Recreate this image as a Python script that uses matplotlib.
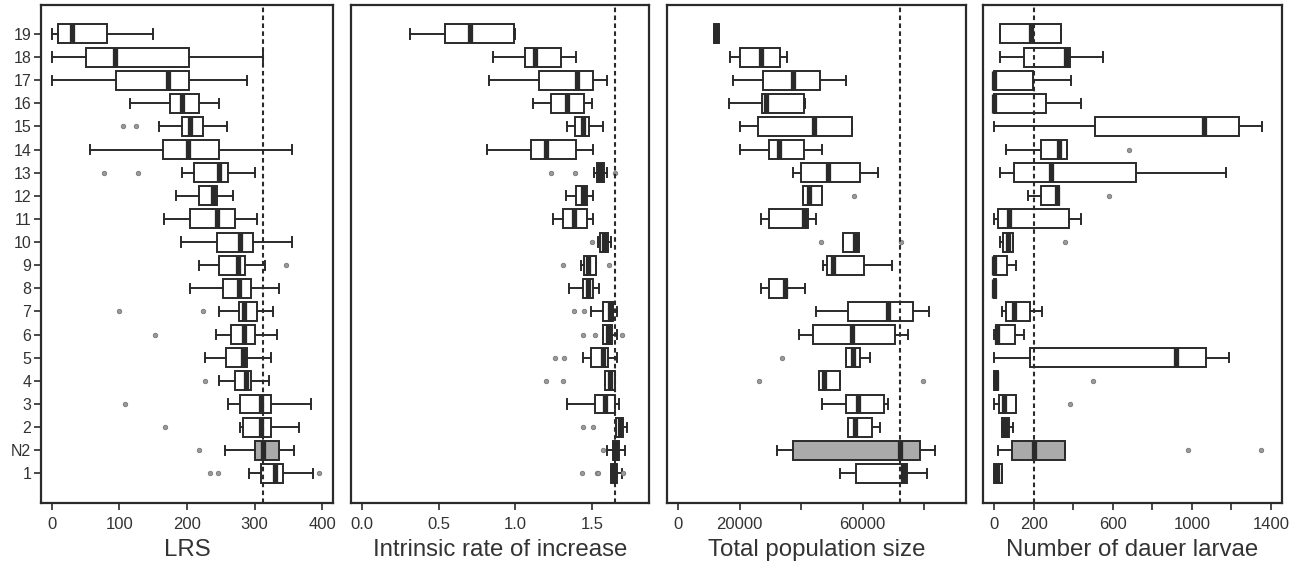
import matplotlib
matplotlib.use('Agg')
import matplotlib.pyplot as plt

plt.rcParams['font.family'] = ['Liberation Sans', 'DejaVu Sans']

# categories, bottom to top
categories = ['1', 'N2', '2', '3', '4', '5', '6', '7', '8', '9', '10',
              '11', '12', '13', '14', '15', '16', '17', '18', '19']

# ---- LRS ----
lrs_whislo = [292, 256, 278, 261, 248, 226, 243, 248, 204, 218, 191, 166, 184, 193, 56, 158, 116, 0, 0, 0]
lrs_q1     = [310, 300, 283, 279, 271, 258, 265, 277, 253, 247, 244, 205, 218, 211, 164, 193, 175, 95, 51, 9]
lrs_med    = [330, 312, 310, 310, 288, 283, 284, 284, 277, 276, 278, 244, 239, 247, 202, 204, 193, 172, 93, 30]
lrs_q3     = [342, 336, 325, 325, 295, 289, 301, 304, 294, 286, 298, 271, 245, 260, 247, 223, 218, 203, 203, 81]
lrs_whishi = [387, 359, 366, 384, 321, 325, 333, 327, 336, 315, 355, 304, 268, 301, 355, 259, 247, 289, 312, 149]
lrs_fliers = [[234, 246, 395], [218], [168], [108], [227], [], [152], [99, 224], [], [346],
              [], [], [], [77, 128], [], [106, 124], [], [], [], []]

# ---- Intrinsic rate of increase ----
r_whislo = [1.622, 1.596, 1.657, 1.334, 1.587, 1.443, 1.574, 1.491, 1.349, 1.430, 1.537, 1.247, 1.328, 1.513, 0.815, 1.339, 1.116, 0.828, 0.855, 0.316]
r_q1     = [1.622, 1.640, 1.657, 1.522, 1.587, 1.491, 1.574, 1.570, 1.443, 1.450, 1.552, 1.310, 1.393, 1.533, 1.101, 1.389, 1.232, 1.153, 1.062, 0.538]
r_med    = [1.644, 1.653, 1.683, 1.585, 1.618, 1.574, 1.607, 1.618, 1.476, 1.476, 1.578, 1.384, 1.443, 1.554, 1.199, 1.443, 1.339, 1.404, 1.127, 0.702]
r_q3     = [1.661, 1.679, 1.705, 1.653, 1.653, 1.602, 1.629, 1.640, 1.509, 1.524, 1.602, 1.469, 1.469, 1.578, 1.393, 1.482, 1.445, 1.509, 1.300, 0.990]
r_whishi = [1.694, 1.718, 1.731, 1.679, 1.653, 1.661, 1.661, 1.661, 1.548, 1.524, 1.622, 1.509, 1.509, 1.596, 1.509, 1.574, 1.498, 1.596, 1.393, 1.000]
r_fliers = [[1.437, 1.53, 1.541, 1.705], [1.574], [1.443, 1.504], [], [1.197, 1.308], [1.258, 1.317],
            [1.443, 1.522, 1.694], [1.384, 1.45], [], [1.312, 1.609], [1.502], [], [], [1.23, 1.39, 1.653],
            [], [], [], [], [], []]

# ---- Total population size ----
p_whislo = [52678, 32131, 55082, 46667, 45792, 54536, 39344, 44699, 26995, 47213, 53770, 26995, 40656, 37377, 20219, 20219, 16393, 17705, 16940, 11694]
p_q1     = [57814, 37377, 55082, 54536, 45792, 54536, 43934, 55082, 29508, 48306, 53770, 29399, 40656, 40000, 29508, 26120, 27322, 27541, 20219, 11694]
p_med    = [73224, 72131, 57596, 58361, 47300, 56831, 56393, 68306, 34645, 50273, 57596, 40984, 42623, 48634, 32787, 44262, 28634, 37377, 26995, 12459]
p_q3     = [74317, 78689, 63060, 66885, 52678, 59016, 70382, 76393, 35519, 60437, 58689, 42077, 46776, 59235, 40874, 56612, 40984, 46120, 33005, 13333]
p_whishi = [80765, 83497, 65574, 68306, 52678, 62514, 74863, 81421, 41421, 69617, 58689, 44699, 46776, 65137, 46776, 56612, 41311, 54536, 35519, 13333]
p_fliers = [[], [], [], [], [26230, 79672], [33661], [], [], [], [], [46557, 72350], [], [57049],
            [], [], [], [], [], [], []]

# ---- Number of dauer larvae ----
d_whislo = [0, 19, 39, 0, 0, 0, 0, 39, 0, 0, 29, 0, 172, 31, 60, 0, 0, 0, 29, 29]
d_q1     = [0, 90, 39, 27, 0, 184, 10, 60, 0, 0, 43, 19, 235, 100, 235, 510, 0, 0, 151, 29]
d_med    = [14, 202, 56, 51, 10, 918, 17, 102, 0, 0, 68, 77, 316, 286, 327, 1061, 0, 0, 362, 187]
d_q3     = [39, 359, 73, 112, 20, 1071, 104, 184, 10, 63, 94, 379, 328, 716, 371, 1238, 265, 197, 383, 340]
d_whishi = [39, 359, 95, 112, 20, 1187, 153, 243, 10, 112, 94, 439, 328, 1175, 371, 1357, 439, 388, 553, 340]
d_fliers = [[], [983, 1349], [], [383], [498], [], [], [], [], [], [357], [], [580], [], [680],
            [], [], [], [], []]

lrs_ticks = [0, 100, 200, 300, 400]
lrs_ticklabels = ['0', '100', '200', '300', '400']
r_ticks = [0.0, 0.5, 1.0, 1.5]
r_ticklabels = ['0.0', '0.5', '1.0', '1.5']
p_ticks = [0, 20000, 40000, 60000, 80000]
p_ticklabels = ['0', '20000', '', '60000', '']
d_ticks = [0, 200, 400, 600, 800, 1000, 1200, 1400]
d_ticklabels = ['0', '200', '', '600', '', '1000', '', '1400']

INK = '#2a2a2a'
fig = plt.figure(figsize=(13.1, 5.69), dpi=100)

H = 569.0
W = 1310.0
top_px, bot_px = 5, 503
panels_px = [(41, 333), (351, 649), (667, 966), (983, 1282)]


def draw(ax, whislo, q1, med, q3, whishi, fliers, xmax, ticks, ticklabels, xlabel, ylabels):
    stats = []
    for i in range(len(categories)):
        stats.append(dict(whislo=whislo[i], q1=q1[i], med=med[i], q3=q3[i],
                          whishi=whishi[i], fliers=fliers[i], label=categories[i]))
    res = ax.bxp(stats, positions=list(range(1, len(categories) + 1)), widths=0.82,
                 capwidths=0.4, orientation='horizontal', patch_artist=True,
                 showfliers=True,
                 boxprops=dict(facecolor='white', edgecolor=INK, linewidth=1.4),
                 whiskerprops=dict(color=INK, linewidth=1.4, linestyle='-'),
                 capprops=dict(color=INK, linewidth=1.4),
                 medianprops=dict(color=INK, linewidth=3.8, solid_capstyle='butt'),
                 flierprops=dict(marker='o', markersize=3.2, markerfacecolor='#9a9a9a',
                                 markeredgecolor='#777777', markeredgewidth=0.6,
                                 linestyle='none'))
    res['boxes'][1].set_facecolor('#aaaaaa')
    ax.axvline(med[1], color=INK, linewidth=1.5, dashes=(2.2, 1.6), zorder=5)
    pad = 0.04 * xmax
    ax.set_xlim(-pad, xmax + pad)
    ax.set_ylim(-0.28, 21.25)
    ax.set_xticks(ticks)
    ax.set_xticklabels(ticklabels, fontsize=12, color='#333333')
    ax.set_xlabel(xlabel, fontsize=17.3, color='#333333', labelpad=5)
    ax.tick_params(axis='x', direction='out', length=5, width=1.2, color=INK, pad=5)
    if ylabels:
        ax.set_yticks(list(range(1, len(categories) + 1)))
        ax.set_yticklabels(categories, fontsize=11.5, color='#333333')
        ax.tick_params(axis='y', direction='out', length=5, width=1.2, color=INK, pad=2)
    else:
        ax.set_yticks([])
    for s in ax.spines.values():
        s.set_color(INK)
        s.set_linewidth(1.6)


axes = []
for (l, r) in panels_px:
    ax = fig.add_axes([l / W, 1 - bot_px / H, (r - l) / W, (bot_px - top_px) / H])
    axes.append(ax)

draw(axes[0], lrs_whislo, lrs_q1, lrs_med, lrs_q3, lrs_whishi, lrs_fliers, 400,
     lrs_ticks, lrs_ticklabels, 'LRS', True)
draw(axes[1], r_whislo, r_q1, r_med, r_q3, r_whishi, r_fliers, 1.8,
     r_ticks, r_ticklabels, 'Intrinsic rate of increase', False)
draw(axes[2], p_whislo, p_q1, p_med, p_q3, p_whishi, p_fliers, 90000,
     p_ticks, p_ticklabels, 'Total population size', False)
draw(axes[3], d_whislo, d_q1, d_med, d_q3, d_whishi, d_fliers, 1400,
     d_ticks, d_ticklabels, 'Number of dauer larvae', False)

fig.savefig('out.png', dpi=100)
